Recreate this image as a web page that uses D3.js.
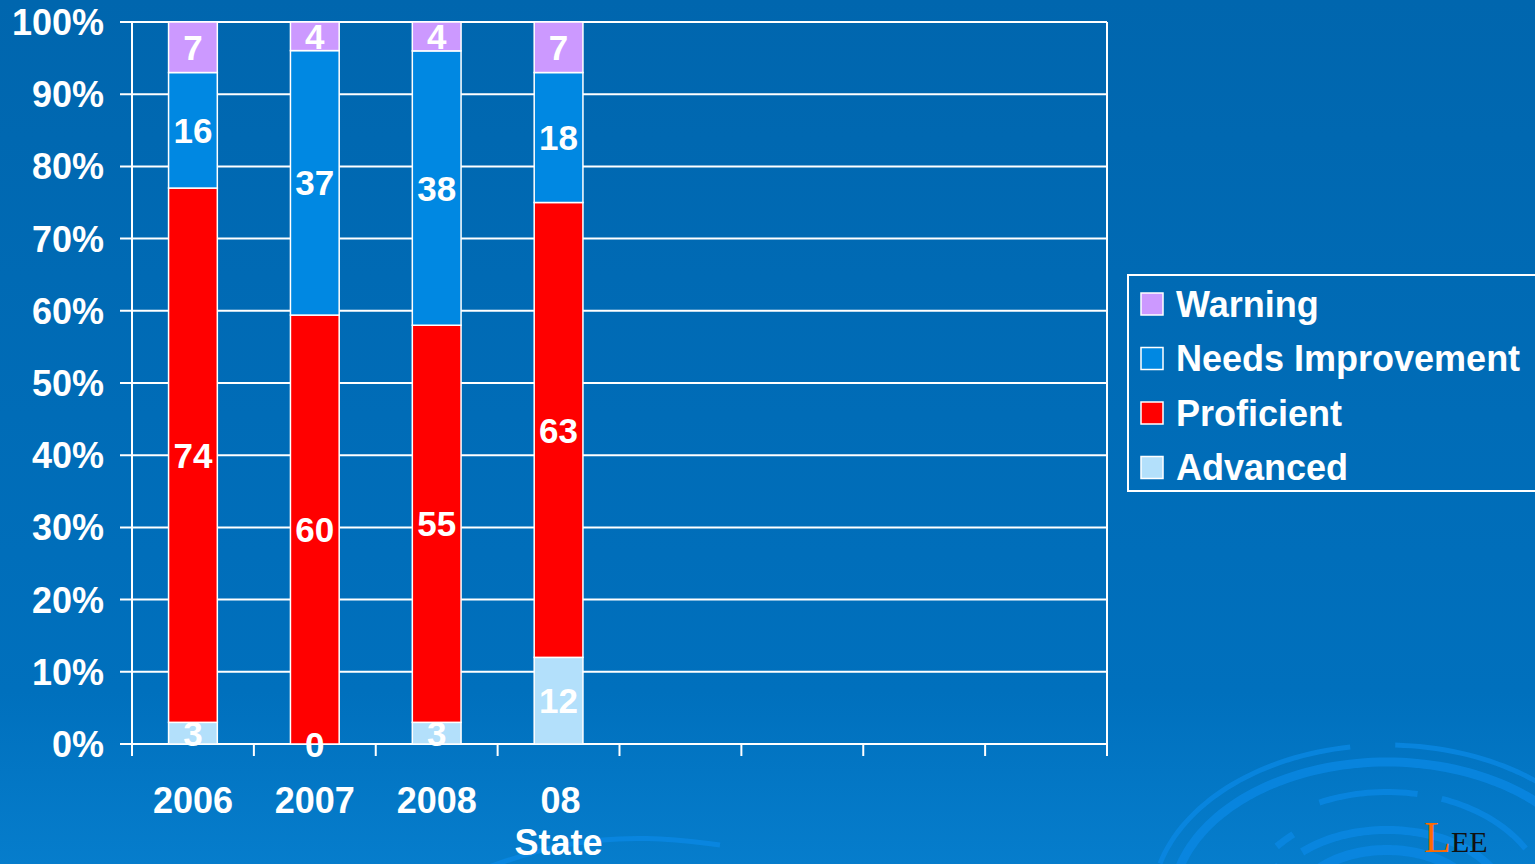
<!DOCTYPE html>
<html>
<head>
<meta charset="utf-8">
<script src="https://cdn.jsdelivr.net/npm/d3@7"></script>
<style>
  html, body { margin: 0; padding: 0; overflow: hidden; }
  svg { display: block; font-family: 'Liberation Sans', Arial, sans-serif; font-weight: bold; }
</style>
</head>
<body>
<div id="chart"></div>
<script>
// categories along the x axis (last four are empty slots)
const categories = ['2006', '2007', '2008', '08 State', 'e1', 'e2', 'e3', 'e4']
const categoryLabels = [['2006'], ['2007'], ['2008'], ['08', 'State'], [], [], [], []]

// series, bottom to top
const seriesNames = ['Advanced', 'Proficient', 'Needs Improvement', 'Warning']
const advanced = [3, 0, 3, 12]
const proficient = [74, 60, 55, 63]
const needsImprovement = [16, 37, 38, 18]
const warning = [7, 4, 4, 7]

const yTicks = [0, 0.1, 0.2, 0.3, 0.4, 0.5, 0.6, 0.7, 0.8, 0.9, 1]

const colors = {
  Advanced: '#b3e0fb',
  Proficient: '#ff0000',
  'Needs Improvement': '#0088e2',
  Warning: '#cc99ff',
}

const W = 1535
const H = 864
const plot = { left: 132, right: 1107, top: 22, bottom: 744 }

const svg = d3.select('#chart').append('svg').attr('width', W).attr('height', H)

// background gradient
const defs = svg.append('defs')
const grad = defs.append('linearGradient').attr('id', 'bg').attr('x1', 0).attr('y1', 0).attr('x2', 0).attr('y2', 1)
grad.append('stop').attr('offset', '0%').attr('stop-color', '#0066ae')
grad.append('stop').attr('offset', '80%').attr('stop-color', '#0070bd')
grad.append('stop').attr('offset', '100%').attr('stop-color', '#067dcc')
svg.append('rect').attr('width', W).attr('height', H).attr('fill', 'url(#bg)')

// decorative swirl in the lower right corner
const deco = svg.append('g').attr('fill', 'none').attr('stroke', '#0a88e4').attr('opacity', 0.8)
const rings = [
  { rx: 235, ry: 160, a0: 195, a1: 262, w: 5 },
  { rx: 235, ry: 160, a0: 272, a1: 345, w: 5 },
  { rx: 215, ry: 143, a0: 190, a1: 340, w: 9 },
  { rx: 160, ry: 113, a0: 245, a1: 282, w: 6 },
  { rx: 160, ry: 113, a0: 290, a1: 330, w: 6 },
  { rx: 140, ry: 95, a0: 218, a1: 228, w: 7 },
  { rx: 125, ry: 80, a0: 200, a1: 210, w: 7 },
  { rx: 120, ry: 75, a0: 225, a1: 335, w: 8 },
  { rx: 90, ry: 55, a0: 200, a1: 350, w: 10 },
  { rx: 60, ry: 35, a0: 190, a1: 360, w: 12 },
]
rings.forEach((r) => {
  const pts = d3.range(r.a0, r.a1 + 1, 2).map((a) => {
    const t = (a * Math.PI) / 180
    return [1387 + r.rx * Math.cos(t), 905 + r.ry * Math.sin(t)]
  })
  deco.append('path').attr('d', d3.line()(pts)).attr('stroke-width', r.w)
})
deco.append('path')
  .attr('d', d3.line().curve(d3.curveBasis)([[480, 870], [560, 842], [650, 836], [720, 845]]))
  .attr('stroke-width', 5)

// logo
const logo = svg.append('text').attr('x', 1424).attr('y', 852).attr('font-family', 'Liberation Serif, serif').attr('font-weight', 'normal')
logo.append('tspan').attr('fill', '#ff6a00').attr('font-size', 44).text('L')
logo.append('tspan').attr('fill', '#111').attr('font-size', 30).text('EE')

// scales
const x = d3.scaleBand().domain(categories).range([plot.left, plot.right]).paddingInner(0).paddingOuter(0)
const y = d3.scaleLinear().domain([0, 1]).range([plot.bottom, plot.top])
const barW = x.bandwidth() * 0.4

// data rows normalised to 100%
const rows = advanced.map((_, i) => {
  const total = advanced[i] + proficient[i] + needsImprovement[i] + warning[i]
  return {
    category: categories[i],
    Advanced: advanced[i] / total,
    Proficient: proficient[i] / total,
    'Needs Improvement': needsImprovement[i] / total,
    Warning: warning[i] / total,
    raw: {
      Advanced: advanced[i],
      Proficient: proficient[i],
      'Needs Improvement': needsImprovement[i],
      Warning: warning[i],
    },
  }
})

// gridlines
svg.append('g')
  .selectAll('line')
  .data(yTicks)
  .enter()
  .append('line')
  .attr('x1', plot.left - 12)
  .attr('x2', plot.right)
  .attr('y1', (d) => y(d))
  .attr('y2', (d) => y(d))
  .attr('stroke', '#fff')
  .attr('stroke-width', 2)

// left axis, right border
svg.append('line').attr('x1', plot.left).attr('x2', plot.left).attr('y1', plot.top).attr('y2', plot.bottom + 12).attr('stroke', '#fff').attr('stroke-width', 2)
svg.append('line').attr('x1', plot.right).attr('x2', plot.right).attr('y1', plot.top).attr('y2', plot.bottom + 12).attr('stroke', '#fff').attr('stroke-width', 2)

// x ticks on band boundaries
svg.append('g')
  .selectAll('line')
  .data(categories.slice(1))
  .enter()
  .append('line')
  .attr('x1', (d) => x(d))
  .attr('x2', (d) => x(d))
  .attr('y1', plot.bottom)
  .attr('y2', plot.bottom + 12)
  .attr('stroke', '#fff')
  .attr('stroke-width', 2)

// y tick labels
svg.append('g')
  .selectAll('text')
  .data(yTicks)
  .enter()
  .append('text')
  .attr('x', plot.left - 28)
  .attr('y', (d) => y(d))
  .attr('dy', '0.36em')
  .attr('text-anchor', 'end')
  .attr('fill', '#fff')
  .attr('font-size', 36)
  .text((d) => d3.format('.0%')(d))

// stacked bars
const stack = d3.stack().keys(seriesNames)(rows)
svg.append('g')
  .selectAll('g')
  .data(stack)
  .enter()
  .append('g')
  .attr('fill', (d) => colors[d.key])
  .selectAll('rect')
  .data((d) => d)
  .enter()
  .append('rect')
  .attr('x', (d) => x(d.data.category) + (x.bandwidth() - barW) / 2)
  .attr('y', (d) => y(d[1]))
  .attr('width', barW)
  .attr('height', (d) => y(d[0]) - y(d[1]))
  .attr('stroke', '#fff')
  .attr('stroke-width', 1.5)

// value labels, drawn after all bars so the 0 shows on top
const labels = svg.append('g')
stack.forEach((layer) => {
  labels.append('g')
    .selectAll('text')
    .data(layer)
    .enter()
    .append('text')
    .attr('x', (d) => x(d.data.category) + x.bandwidth() / 2)
    .attr('y', (d) => y((d[0] + d[1]) / 2))
    .attr('dy', '0.36em')
    .attr('text-anchor', 'middle')
    .attr('fill', '#fff')
    .attr('font-size', 35)
    .text((d) => d.data.raw[layer.key])
})

// category labels
const catG = svg.append('g')
categories.forEach((c, i) => {
  categoryLabels[i].forEach((line, j) => {
    catG.append('text')
      .attr('x', x(c) + x.bandwidth() / 2 + (j === 0 && i === 3 ? 2 : 0))
      .attr('y', 813 + j * 42)
      .attr('text-anchor', 'middle')
      .attr('fill', '#fff')
      .attr('font-size', 36)
      .text(line)
  })
})

// legend
const legend = svg.append('g').attr('transform', 'translate(1128,275)')
legend.append('rect')
  .attr('x', 0)
  .attr('y', 0)
  .attr('width', 440)
  .attr('height', 216)
  .attr('fill', 'none')
  .attr('stroke', '#fff')
  .attr('stroke-width', 2)

const legendOrder = seriesNames.slice().reverse()
const li = legend.selectAll('g')
  .data(legendOrder)
  .enter()
  .append('g')
  .attr('transform', (d, i) => `translate(13,${29 + i * 54.5})`)

li.append('rect')
  .attr('x', 0)
  .attr('y', -11)
  .attr('width', 22)
  .attr('height', 22)
  .attr('fill', (d) => colors[d])
  .attr('stroke', '#fff')
  .attr('stroke-width', 1.5)

li.append('text')
  .attr('x', 35)
  .attr('y', 0)
  .attr('dy', '0.36em')
  .attr('fill', '#fff')
  .attr('font-size', 36)
  .text((d) => d)
</script>
</body>
</html>
